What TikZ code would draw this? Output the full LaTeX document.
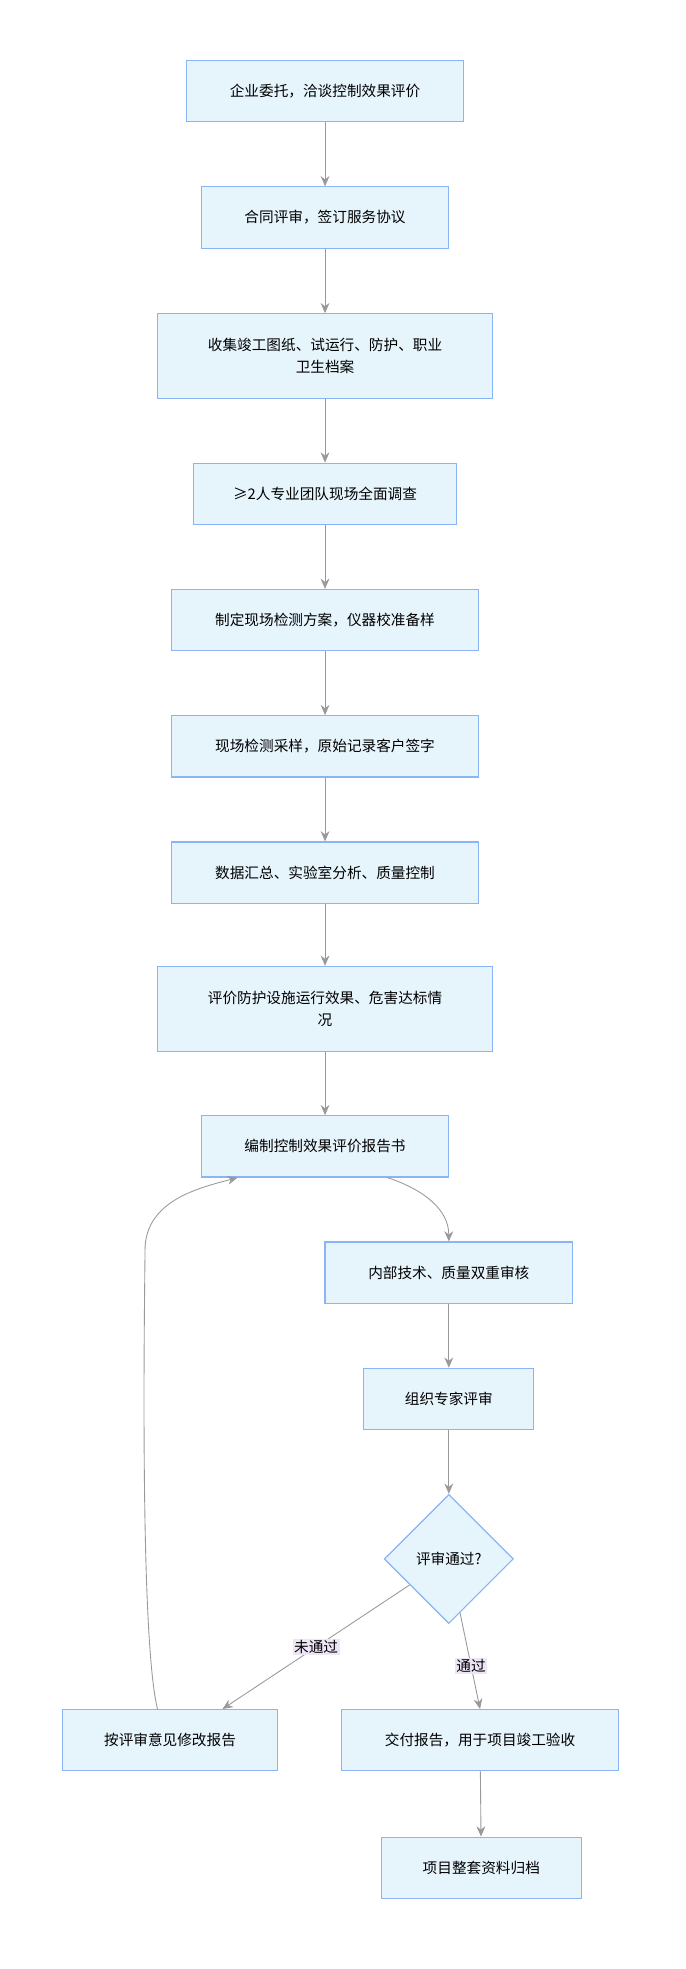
\documentclass[tikz,border=0pt]{standalone}
\usepackage{fontspec}
\setmainfont{Noto Sans CJK SC}
\usetikzlibrary{shapes.geometric,arrows.meta,calc}
\definecolor{boxfill}{HTML}{E6F4FC}
\definecolor{boxline}{HTML}{8AB4F8}
\definecolor{edgegray}{HTML}{999999}
\definecolor{lblfill}{HTML}{EDE4F6}
\tikzset{task/.style={draw=boxline, fill=boxfill, thick, align=center, font=\fontsize{10}{15}\selectfont, inner sep=0pt, minimum height=1.47cm},
  check/.style={draw=boxline, fill=boxfill, thick, diamond, aspect=1, font=\fontsize{10}{12}\selectfont, minimum size=3.1cm, inner sep=0pt},
  flow/.style={draw=edgegray, semithick, -{Stealth[length=7pt,width=6pt]}},
  lbl/.style={fill=lblfill, font=\fontsize{10}{12}\selectfont, inner sep=1pt}}
\begin{document}
\begin{tikzpicture}[x=0.03cm, y=-0.03cm]
	\useasboundingbox (0,0) rectangle (548,1575);
	\node[task, minimum width=6.66cm] (s1) at (260,73) {企业委托，洽谈控制效果评价};
	\node[task, minimum width=5.91cm] (s2) at (260,174) {合同评审，签订服务协议};
	\node[task, minimum width=8.04cm, minimum height=2.04cm] (s3) at (260,285) {收集竣工图纸、试运行、防护、职业\\卫生档案};
	\node[task, minimum width=6.3cm] (s4) at (260,395) {≥2人专业团队现场全面调查};
	\node[task, minimum width=7.38cm] (s5) at (260,496) {制定现场检测方案，仪器校准备样};
	\node[task, minimum width=7.38cm] (s6) at (260,597) {现场检测采样，原始记录客户签字};
	\node[task, minimum width=7.38cm] (s7) at (260,698) {数据汇总、实验室分析、质量控制};
	\node[task, minimum width=8.04cm, minimum height=2.04cm] (s8) at (260,807) {评价防护设施运行效果、危害达标情\\况};
	\node[task, minimum width=5.91cm] (s9) at (260,917) {编制控制效果评价报告书};
	\node[task, minimum width=5.94cm] (s10) at (359,1018) {内部技术、质量双重审核};
	\node[task, minimum width=4.08cm] (s11) at (359,1119) {组织专家评审};
	\node[check] (ok) at (359,1247) {评审通过?};
	\node[task, minimum width=5.16cm] (fix) at (136,1392) {按评审意见修改报告};
	\node[task, minimum width=6.66cm] (give) at (384,1392) {交付报告，用于项目竣工验收};
	\node[task, minimum width=4.8cm] (arch) at (385,1494) {项目整套资料归档};

	\foreach \a/\b in {s1/s2,s2/s3,s3/s4,s4/s5,s5/s6,s6/s7,s7/s8,s8/s9,s10/s11,s11/ok,give/arch}
		\draw[flow] (\a) -- (\b);
	\draw[flow] ($(s9.south)+(50,0)$) .. controls +(30,10) and +(0,-25) .. (s10.north);
	\draw[flow] (ok) -- node[lbl, pos=0.5] {未通过} ($(fix.north)+(42,0)$);
	\draw[flow] (ok) -- node[lbl, pos=0.55] {通过} (give.north);
	\draw[flow] ($(fix.north)+(-10,0)$) .. controls +(-15,-60) and +(0,20) .. (116,1000) .. controls (116,960) and (160,950) .. ($(s9.south)+(-70,0)$);
\end{tikzpicture}
\end{document}
